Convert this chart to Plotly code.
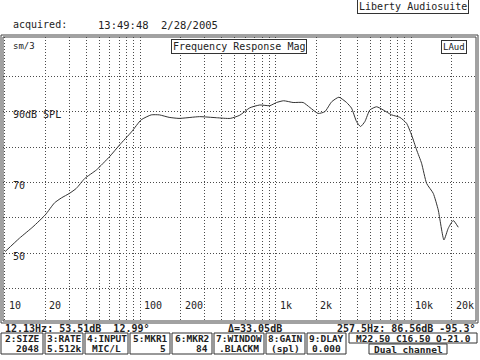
import math
import plotly.graph_objects as go

# ---- data ----
freq_hz = [10.1, 12.9, 16.2, 20, 23.4, 26.3, 30.2, 33.9, 39.1, 47.6, 59.7, 70.7, 86.6,
           102, 121, 139, 164, 194, 275, 366, 463, 545, 646, 766, 908, 1017, 1148,
           1349, 1600, 1792, 2064, 2313, 2596, 2935, 3346, 3642, 3963, 4244, 4566,
           4972, 5570, 6232, 7193, 8279, 9280, 10103, 11000, 11970, 13040, 14590,
           15880, 17500, 18830, 20500, 22320]
spl_db = [50.4, 54.2, 57.4, 60.8, 64.2, 65.6, 66.9, 68.3, 71.1, 73.5, 77.3, 80.6, 84.3,
          87.7, 89.1, 89.1, 88.4, 88.1, 88.6, 88.3, 88.1, 89.0, 91.1, 91.9, 91.7, 92.6,
          93.1, 92.6, 92.6, 91.2, 89.5, 90.0, 92.8, 94.1, 92.6, 91.0, 87.2, 85.8, 87.2,
          90.5, 91.4, 90.5, 89.1, 88.4, 86.7, 83.4, 79.2, 75.4, 69.7, 66.9,
          62.2, 53.7, 57.0, 59.2, 57.3]

x_grid = [10, 20, 30, 40, 50, 60, 70, 80, 90, 100, 200, 300, 400, 500, 600, 700, 800, 900,
          1000, 2000, 3000, 4000, 5000, 6000, 7000, 8000, 9000, 10000, 20000]
x_label_vals = [10, 20, 100, 200, 1000, 2000, 10000, 20000]
x_label_text = ["10", "20", "100", "200", "1k", "2k", "10k", "20k"]
y_grid = [40, 50, 60, 70, 80, 90, 100]
y_label_vals = [90, 70, 50]
y_label_text = ["90dB SPL", "70", "50"]

W, H = 480, 360
FONT = "DejaVu Sans Mono"
INK = "#222222"


def px(x):
    return x / W


def py(y):
    return 1 - y / H


fig = go.Figure()
fig.add_trace(go.Scatter(x=freq_hz, y=spl_db, mode="lines",
                         line=dict(color="#333333", width=1, shape="spline", smoothing=0.5),
                         hoverinfo="skip", showlegend=False))

# plot area: x 3..476 px, y 37..321 px ; 10 Hz at 4.5 px, 135.5 px / decade
dec = 135.5
x_lo = 1 - 1.5 / dec
x_hi = 1 + 471.5 / dec
ypp = 3.533
y_hi = 90 + (111.7 - 37) / ypp
y_lo = 90 - (321 - 111.7) / ypp

grid_col = "#4a4a4a"
fig.update_layout(
    width=W, height=H,
    margin=dict(l=0, r=0, t=0, b=0, autoexpand=False),
    paper_bgcolor="white", plot_bgcolor="white",
    font=dict(family=FONT, size=10, color=INK),
    xaxis=dict(type="log", range=[x_lo, x_hi], domain=[px(3), px(476)],
               tickvals=x_grid, showticklabels=False, ticks="",
               showgrid=True, gridcolor=grid_col, gridwidth=1, griddash="1px,2px",
               zeroline=False, showline=False, fixedrange=True),
    yaxis=dict(range=[y_lo, y_hi], domain=[py(321), py(37)],
               tickvals=y_grid, showticklabels=False, ticks="",
               showgrid=True, gridcolor=grid_col, gridwidth=1, griddash="1px,2px",
               zeroline=False, showline=False, fixedrange=True),
)

shapes = []
# double frame
for (x0, y0, x1, y1) in [(1, 35, 478, 323), (3, 37, 476, 321)]:
    shapes.append(dict(type="rect", xref="paper", yref="paper",
                       x0=px(x0), x1=px(x1), y0=py(y1), y1=py(y0),
                       line=dict(color="#444444", width=1)))

# bottom parameter boxes
box_edges = [0, 44, 84, 129, 171, 213, 265, 306, 347]
for i in range(len(box_edges) - 1):
    a, b = box_edges[i], box_edges[i + 1]
    shapes.append(dict(type="rect", xref="paper", yref="paper",
                       x0=px(a + 1), x1=px(b - 1), y0=py(354), y1=py(333),
                       line=dict(color="#333333", width=1)))
shapes.append(dict(type="rect", xref="paper", yref="paper",
                   x0=px(349), x1=px(477), y0=py(343), y1=py(333),
                   line=dict(color="#333333", width=1)))
shapes.append(dict(type="rect", xref="paper", yref="paper",
                   x0=px(369), x1=px(447), y0=py(354), y1=py(344),
                   line=dict(color="#333333", width=1)))
fig.update_layout(shapes=shapes)

ann = []


def txt(s, x, y, anchor="left", size=10, bold=False, box=False):
    d = dict(text=("<b>%s</b>" % s) if bold else s, xref="paper", yref="paper",
             x=px(x), y=py(y), xanchor=anchor, yanchor="middle", showarrow=False,
             font=dict(family=FONT, size=size, color=INK), borderpad=1)
    if box:
        d.update(bordercolor="#333333", borderwidth=1, bgcolor="white")
    ann.append(d)


# header
txt("Liberty Audiosuite", 413, 6, anchor="center", box=True)
txt("acquired:", 11, 25)
txt("13:49:48", 96, 25, size=10.5)
txt("2/28/2005", 159, 25, size=10.5)
txt("Frequency Response Mag", 238.5, 46.7, anchor="center", box=True)
txt("sm/3", 11, 46.5, size=9)
txt("LAud", 453.5, 47, anchor="center", size=9, box=True)

# axis labels
for v, s in zip(x_label_vals, x_label_text):
    ann.append(dict(text=s, xref="x", yref="paper", x=math.log10(v), y=py(305),
                    xanchor="left", yanchor="middle", xshift=2, showarrow=False,
                    font=dict(family=FONT, size=10, color=INK)))
for v, s in zip(y_label_vals, y_label_text):
    ann.append(dict(text=s, xref="paper", yref="y", x=px(11), y=v,
                    xanchor="left", yanchor="middle", yshift=-3, showarrow=False,
                    font=dict(family=FONT, size=10, color=INK)))

# status line
txt("12.13Hz: 53.51dB  12.99°", 3, 328, bold=True)
txt("Δ=33.05dB", 255, 328, anchor="center", bold=True)
txt("257.5Hz: 86.56dB -95.3°", 477, 328, anchor="right", bold=True)

labels = ["2:SIZE", "3:RATE", "4:INPUT", "5:MKR1", "6:MKR2", "7:WINDOW", "8:GAIN", "9:DLAY"]
values = ["2048", "5.512k", "MIC/L", "5", "84", ".BLACKM", "(spl)", "0.000"]
for i, (lab, val) in enumerate(zip(labels, values)):
    a, b = box_edges[i], box_edges[i + 1]
    txt(lab, (a + b) / 2, 338.5, anchor="center", size=9.5, bold=True)
    if val in ("2048", "5", "84"):
        txt(val, b - 3, 348.5, anchor="right", size=9.5, bold=True)
    else:
        txt(val, (a + b) / 2, 348.5, anchor="center", size=9.5, bold=True)
txt("M22.50 C16.50 O-21.0", 413, 338, anchor="center", size=9.5, bold=True)
txt("Dual channel", 408, 349, anchor="center", size=9.5, bold=True)

fig.update_layout(annotations=ann)
fig.write_html("out.html")
